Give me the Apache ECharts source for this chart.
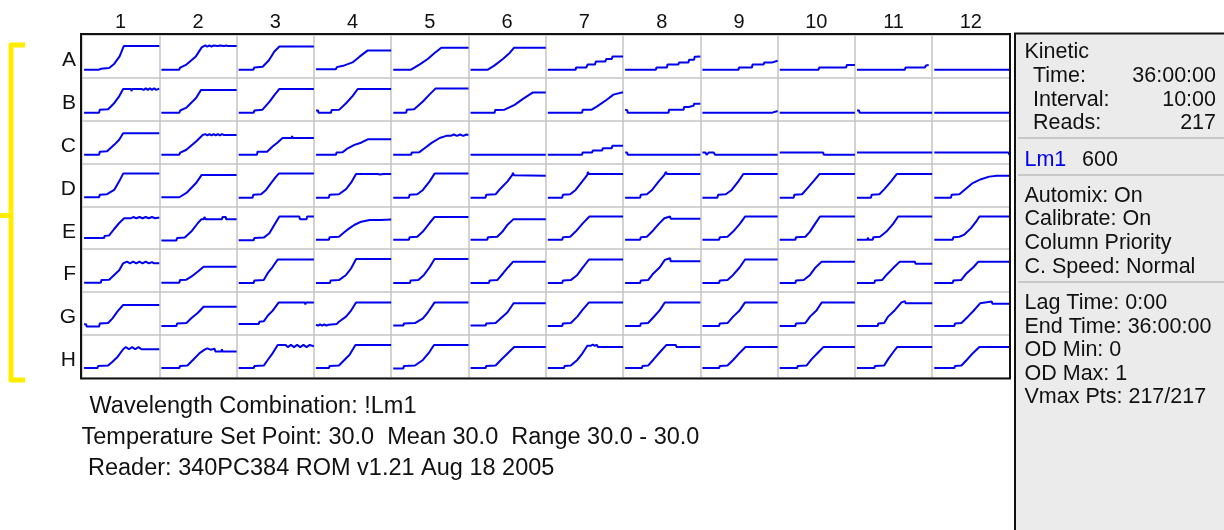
<!DOCTYPE html>
<html>
<head>
<meta charset="utf-8">
<script src="https://cdn.jsdelivr.net/npm/echarts/dist/echarts.min.js"></script>
<style>
html,body{margin:0;padding:0;background:#fff;}
#chart{width:1224px;height:530px;}
</style>
</head>
<body>
<div id="chart"></div>
<script>
// Column and row labels of the 96-well plate
const colLabels = ['1','2','3','4','5','6','7','8','9','10','11','12'];
const rowLabels = ['A','B','C','D','E','F','G','H'];

// Each well: [time (h), OD] points (time 0..36 h, OD 0..1)
const rowA = [
  [[0,.18],[7,.18],[8,.2],[12,.22],[14.5,.32],[17,.49],[19,.73],[36,.73]],
  [[0,.18],[8.5,.18],[9,.23],[12,.3],[16.5,.49],[19.3,.7],[20,.73],[21,.745],[22,.72],[23,.745],[24,.72],[25,.745],[27,.73],[28,.745],[30,.73],[31,.745],[32,.73],[36,.73]],
  [[0,.18],[7,.18],[7.5,.23],[11.5,.25],[14.5,.4],[17,.6],[19.5,.72],[36,.72]],
  [[0,.19],[9.5,.19],[10,.24],[13,.27],[17.5,.35],[21,.49],[24.8,.63],[36,.63]],
  [[0,.18],[8.5,.18],[9,.22],[12.5,.3],[16.5,.43],[19.8,.57],[23,.69],[36,.69]],
  [[0,.18],[8.3,.18],[9,.22],[11.5,.28],[15.5,.43],[18.7,.57],[20.8,.69],[36,.69]],
  [[0,.18],[13.3,.18],[13.5,.23],[18.4,.23],[19,.3],[22.5,.3],[23,.37],[27.5,.37],[28,.43],[30.6,.43],[31,.49],[36,.49]],
  [[0,.18],[14.7,.18],[15,.23],[20,.23],[20.3,.3],[25.5,.3],[25.8,.35],[30.3,.35],[30.6,.41],[33,.41],[33.3,.48],[36,.49]],
  [[0,.18],[17.3,.18],[17.5,.23],[23.7,.23],[24,.3],[29.3,.3],[29.6,.35],[33.5,.35],[34,.38],[36,.39]],
  [[0,.18],[18.6,.18],[18.9,.23],[31.8,.23],[32.1,.29],[36,.29]],
  [[0,.18],[22.9,.18],[23.2,.23],[32.5,.23],[33,.28],[34.3,.29]],
  [[0,.18],[36,.18]]
];
const rowB = [
  [[0,.18],[7.2,.18],[7.5,.25],[11.5,.26],[14.4,.4],[16.8,.56],[18.7,.73],[22.5,.73],[22.7,.68],[23,.73],[27.5,.73],[28.5,.71],[29.5,.75],[30.5,.71],[31.5,.75],[32.5,.71],[33.5,.75],[34.5,.71],[36,.74]],
  [[0,.18],[8.6,.18],[9,.23],[11.8,.29],[16.6,.52],[19,.71],[36,.71]],
  [[0,.18],[7.2,.18],[7.5,.23],[11.4,.25],[14.7,.43],[17,.58],[19.4,.73],[36,.73]],
  [[0,.23],[1,.23],[1.2,.18],[2.4,.18],[7.2,.18],[7.5,.24],[11.2,.25],[14.4,.4],[17.6,.57],[20,.73],[36,.73]],
  [[0,.18],[6.2,.18],[6.5,.25],[10,.26],[14.2,.44],[17.3,.6],[20.2,.74],[36,.74]],
  [[0,.18],[11.5,.18],[11.8,.24],[16.3,.25],[21.1,.36],[25.1,.5],[29.9,.65],[36,.65]],
  [[0,.18],[16.4,.18],[16.7,.25],[21,.25],[23.4,.32],[28.2,.48],[31.4,.6],[35.4,.65],[36,.65]],
  [[0,.24],[1,.24],[1.2,.18],[2.4,.18],[20.8,.18],[21,.25],[28,.25],[28.2,.31],[30.4,.31],[30.6,.34],[32.8,.34],[33,.39],[36,.39]],
  [[0,.18],[33.5,.18],[33.8,.22],[36,.22]],
  [[0,.18],[36,.18]],
  [[0,.23],[1,.23],[1.2,.18],[2.4,.18],[36,.18]],
  [[0,.18],[36,.18]]
];
const rowC = [
  [[0,.2],[7.2,.2],[7.5,.27],[11,.28],[14.4,.43],[16.8,.55],[18.7,.7],[36,.7]],
  [[0,.2],[8.6,.2],[9,.25],[11.8,.31],[16.6,.51],[19.8,.66],[21,.68],[22,.65],[23,.68],[24,.65],[25,.68],[26,.65],[27,.68],[28,.65],[29,.68],[30,.66],[33,.66],[33.3,.63],[33.8,.66],[36,.66]],
  [[0,.2],[8.8,.2],[9,.27],[13.6,.27],[16.2,.39],[18.5,.48],[21,.59],[25.4,.59],[25.6,.64],[25.8,.59],[36,.59]],
  [[0,.2],[9.6,.2],[9.8,.25],[12.8,.26],[15.2,.35],[18.4,.43],[21.6,.48],[24.8,.56],[36,.56]],
  [[0,.2],[8.6,.2],[8.8,.25],[12.5,.26],[15,.35],[18.2,.47],[22.2,.59],[25.4,.64],[26,.67],[27.5,.64],[29,.67],[30.5,.64],[32,.67],[33.5,.64],[35,.67],[36,.66]],
  [[0,.2],[36,.2]],
  [[0,.2],[16.4,.2],[16.6,.25],[21.2,.25],[21.5,.3],[26,.3],[26.3,.35],[30.6,.35],[30.9,.41],[36,.41]],
  [[0,.25],[1,.25],[1.2,.2],[2.4,.2],[36,.2]],
  [[0,.25],[1.5,.25],[2,.2],[3,.25],[5.5,.25],[6,.2],[36,.2]],
  [[0,.25],[20.8,.25],[21.1,.2],[36,.2]],
  [[0,.25],[36,.25]],
  [[0,.25],[35.5,.25],[36,.2]]
];
const rowD = [
  [[0,.21],[7.2,.21],[7.5,.27],[11,.28],[14.4,.38],[16.8,.58],[18.7,.76],[36,.76]],
  [[0,.21],[8.6,.21],[9,.25],[12,.31],[16.6,.54],[19.3,.73],[36,.73]],
  [[0,.2],[6.7,.2],[7,.27],[10.7,.28],[13.1,.38],[15.5,.54],[17.9,.69],[19.2,.76],[36,.76]],
  [[0,.2],[6.2,.2],[6.5,.27],[11,.28],[14.4,.4],[16.8,.55],[19.2,.75],[29.5,.75],[29.8,.71],[30.6,.74],[31.5,.71],[32.5,.75],[36,.75]],
  [[0,.2],[7.5,.2],[7.8,.27],[11.5,.28],[14.2,.38],[17.4,.58],[19.8,.76],[36,.76]],
  [[0,.2],[7.2,.2],[7.5,.27],[12,.28],[14.5,.42],[17.7,.58],[20,.73],[20.3,.78],[20.8,.72],[36,.71]],
  [[0,.2],[6.9,.2],[7.2,.27],[10.7,.28],[13.3,.38],[16.5,.58],[18.9,.73],[19.2,.8],[19.6,.75],[36,.75]],
  [[0,.2],[7.2,.2],[7.5,.27],[10.4,.28],[12.9,.38],[16.1,.58],[18.8,.73],[19.5,.8],[20,.75],[36,.75]],
  [[0,.2],[7.2,.2],[7.5,.27],[11.2,.28],[14,.38],[17.2,.58],[19.6,.75],[36,.75]],
  [[0,.2],[6.7,.2],[7,.27],[10.7,.28],[12.9,.4],[16.1,.58],[19,.75],[36,.75]],
  [[0,.2],[6.7,.2],[7,.27],[10.7,.28],[13.1,.4],[16.3,.58],[19,.75],[36,.75]],
  [[0,.2],[8,.2],[8.3,.27],[12,.28],[14.4,.38],[18.4,.54],[22.4,.63],[26.3,.69],[30,.71],[36,.71]]
];
const rowE = [
  [[0,.26],[9.6,.26],[9.8,.31],[12,.32],[14.4,.47],[16.8,.61],[19.2,.72],[22.5,.72],[23.5,.75],[25,.72],[26.5,.75],[28,.72],[29.5,.75],[31,.72],[32.5,.75],[34,.72],[36,.74]],
  [[0,.2],[7.2,.2],[7.5,.26],[11.2,.27],[14.3,.41],[17.5,.61],[19.2,.7],[20.3,.7],[20.6,.75],[21.2,.7],[29,.7],[29.3,.75],[30.8,.75],[31,.7],[36,.7]],
  [[0,.21],[7.2,.21],[7.5,.26],[12,.27],[14.7,.37],[17.1,.57],[19.5,.76],[29,.76],[29.3,.7],[32.5,.7],[32.8,.76],[36,.76]],
  [[0,.22],[6.2,.22],[6.5,.28],[11,.29],[14,.41],[16.1,.49],[18.5,.57],[21.7,.64],[25.7,.68],[26.2,.71],[26.5,.68],[31,.68],[31.3,.71],[31.8,.68],[36,.69]],
  [[0,.22],[7.5,.22],[7.8,.28],[11.5,.29],[14.2,.41],[17.4,.61],[19.8,.75],[36,.75]],
  [[0,.22],[8,.22],[8.3,.28],[12.8,.29],[15.3,.41],[17.7,.57],[20.6,.7],[36,.7]],
  [[0,.22],[6.9,.22],[7.2,.28],[10.7,.29],[13.3,.41],[16.5,.59],[19.9,.76],[36,.76]],
  [[0,.22],[7.2,.22],[7.5,.28],[10.4,.29],[12.9,.41],[16.1,.59],[18.8,.72],[19,.76],[21.5,.76],[21.8,.71],[36,.71]],
  [[0,.22],[8,.22],[8.3,.28],[12,.29],[14.7,.41],[17.9,.59],[20.4,.76],[36,.76]],
  [[0,.22],[7.5,.22],[7.8,.28],[12.3,.29],[14.5,.41],[16.9,.59],[19.3,.76],[36,.76]],
  [[0,.22],[5,.22],[5.2,.27],[5.5,.22],[7.5,.22],[7.8,.28],[11,.29],[14.1,.41],[17.3,.59],[19.7,.76],[36,.76]],
  [[0,.22],[8.8,.22],[9.1,.28],[12,.29],[14.4,.34],[17.6,.49],[20,.64],[21.6,.76],[36,.76]]
];
const rowF = [
  [[0,.22],[8,.22],[8.3,.28],[12,.29],[14.4,.4],[16.8,.51],[18.7,.67],[20.5,.71],[22,.67],[23.5,.71],[25,.67],[26.5,.71],[28,.67],[29.5,.71],[31,.67],[32.5,.7],[33.5,.67],[36,.67]],
  [[0,.22],[8.6,.22],[8.9,.28],[12,.29],[14.3,.36],[17.5,.48],[20.2,.59],[36,.59]],
  [[0,.21],[7.2,.21],[7.5,.27],[12,.28],[13.9,.44],[16.3,.59],[18.7,.76],[36,.76]],
  [[0,.21],[6.7,.21],[7,.27],[11,.28],[14.4,.4],[16.8,.55],[19.2,.77],[36,.77]],
  [[0,.21],[8,.21],[8.3,.27],[12,.28],[14.7,.4],[17.4,.58],[19.8,.77],[36,.77]],
  [[0,.21],[8.8,.21],[9.1,.27],[12.8,.28],[15.6,.44],[18,.58],[20.4,.71],[36,.71]],
  [[0,.21],[6.9,.21],[7.2,.27],[11,.28],[14.1,.4],[16.5,.56],[19.7,.76],[36,.76]],
  [[0,.21],[7.2,.21],[7.5,.27],[11,.28],[13.4,.43],[16.6,.58],[19,.75],[19.2,.79],[21.5,.79],[21.8,.72],[36,.72]],
  [[0,.21],[8,.21],[8.3,.27],[12,.28],[14.7,.4],[17.9,.58],[20.4,.76],[36,.76]],
  [[0,.21],[7.5,.21],[7.8,.27],[11.5,.28],[14.5,.4],[16.9,.56],[20.1,.71],[36,.71]],
  [[0,.21],[8.3,.21],[8.6,.27],[12,.28],[14.1,.4],[17.3,.56],[20.5,.71],[27.7,.71],[28,.66],[36,.66]],
  [[0,.21],[8.8,.21],[9.1,.27],[12.8,.28],[15.5,.44],[18.7,.58],[21.1,.71],[36,.71]]
];
const rowG = [
  [[0,.25],[1,.25],[1.2,.2],[2.4,.2],[7.2,.2],[7.5,.27],[11.5,.28],[13.6,.39],[16,.55],[18.7,.7],[36,.7]],
  [[0,.21],[7.2,.21],[7.5,.27],[12,.28],[14.3,.39],[17.5,.52],[20.2,.66],[36,.66]],
  [[0,.26],[9.6,.26],[9.9,.31],[12,.32],[13.9,.45],[16.3,.57],[19.2,.76],[31.7,.76],[31.9,.71],[32.2,.76],[36,.76]],
  [[0,.24],[1,.22],[2,.25],[3,.22],[4,.25],[5,.22],[6,.24],[10,.26],[11,.31],[14.4,.43],[16.8,.57],[19.2,.76],[36,.76]],
  [[0,.22],[4.8,.22],[5.1,.27],[10.4,.28],[14.2,.39],[16.6,.53],[19.8,.76],[36,.76]],
  [[0,.22],[7.2,.22],[7.5,.27],[12,.28],[14.5,.39],[17.7,.53],[20.6,.74],[36,.74]],
  [[0,.21],[6.9,.21],[7.2,.27],[11,.28],[14.1,.43],[16.5,.58],[19.7,.76],[36,.76]],
  [[0,.21],[7.2,.21],[7.5,.27],[11,.28],[14.2,.45],[16.6,.58],[19,.76],[36,.76]],
  [[0,.21],[8,.21],[8.3,.27],[12,.28],[14.7,.43],[17.9,.58],[20.4,.76],[36,.76]],
  [[0,.21],[7.5,.21],[7.8,.27],[12.3,.28],[14.5,.43],[17.7,.58],[20.1,.76],[36,.76]],
  [[0,.21],[9.9,.21],[10.2,.27],[13,.28],[14.9,.43],[18.1,.58],[21.3,.76],[21.5,.79],[23,.79],[23.2,.74],[36,.74]],
  [[0,.21],[9.6,.21],[9.9,.27],[13,.28],[16.3,.44],[18.7,.56],[21.9,.74],[22.1,.78],[27.5,.78],[27.8,.73],[36,.73]]
];
const rowH = [
  [[0,.23],[6.4,.23],[6.7,.28],[11.5,.29],[13.6,.38],[16,.49],[18.7,.67],[20,.72],[21.5,.67],[23,.72],[24.5,.67],[26,.72],[27.5,.67],[29,.67],[36,.67]],
  [[0,.23],[8.6,.23],[8.9,.28],[12.5,.29],[15.1,.42],[18.3,.58],[20.7,.66],[22,.69],[23.5,.66],[25.5,.68],[25.8,.62],[28.8,.62],[29,.67],[29.2,.62],[36,.62]],
  [[0,.23],[7.2,.23],[7.5,.28],[12,.29],[13.9,.42],[16.3,.58],[18.7,.77],[22.5,.77],[23.5,.72],[25,.77],[26.5,.72],[28,.77],[29.5,.72],[31,.77],[32.5,.72],[34,.77],[36,.74]],
  [[0,.23],[6.2,.23],[6.5,.28],[11,.29],[13.6,.42],[16.1,.54],[18.9,.77],[36,.77]],
  [[0,.22],[4.8,.22],[5.1,.28],[10.4,.29],[14.2,.42],[17.4,.61],[19.5,.77],[36,.77]],
  [[0,.23],[7.2,.23],[7.5,.28],[12,.29],[14.5,.42],[17.7,.57],[20.9,.72],[36,.72]],
  [[0,.23],[7.7,.23],[8,.28],[11,.29],[14.1,.42],[16.5,.57],[18.9,.75],[19.5,.78],[20.5,.75],[21.5,.78],[22.5,.75],[23.5,.77],[24,.72],[36,.72]],
  [[0,.23],[8,.23],[8.3,.28],[11,.29],[13.4,.42],[16.6,.6],[19.8,.77],[21,.77],[21.3,.73],[22.5,.77],[24.3,.77],[24.6,.72],[36,.72]],
  [[0,.23],[8,.23],[8.3,.28],[12,.29],[14.7,.42],[17.9,.59],[20.6,.72],[36,.72]],
  [[0,.23],[8.3,.23],[8.6,.28],[12.8,.29],[15.3,.44],[18.5,.6],[20.9,.72],[36,.72]],
  [[0,.23],[8.3,.23],[8.6,.28],[13,.29],[14.9,.44],[17.3,.6],[19.2,.72],[36,.72]],
  [[0,.23],[9.6,.23],[9.9,.28],[13,.29],[15.5,.42],[18.7,.59],[21.6,.72],[36,.72]]
];
const plate = [rowA, rowB, rowC, rowD, rowE, rowF, rowG, rowH];

// Side panel and footer texts
const panelLines = [
  {t:'Kinetic', x:1024.5, y:52.5},
  {t:'Time:', x:1033, y:76.5},
  {t:'Interval:', x:1033, y:100},
  {t:'Reads:', x:1033, y:123.5},
  {t:'Automix: On', x:1024.5, y:196},
  {t:'Calibrate: On', x:1024.5, y:219.5},
  {t:'Column Priority', x:1024.5, y:243.5},
  {t:'C. Speed: Normal', x:1024.5, y:267.5},
  {t:'Lag Time: 0:00', x:1024.5, y:303.5},
  {t:'End Time: 36:00:00', x:1024.5, y:327},
  {t:'OD Min: 0', x:1024.5, y:350.5},
  {t:'OD Max: 1', x:1024.5, y:374},
  {t:'Vmax Pts: 217/217', x:1024.5, y:397.5}
];
const panelValues = [
  {t:'36:00:00', y:76.5},
  {t:'10:00', y:100},
  {t:'217', y:123.5}
];
const footerLines = [
  {t:'Wavelength Combination: !Lm1', x:89.5, y:406.5},
  {t:'Temperature Set Point: 30.0  Mean 30.0  Range 30.0 - 30.0', x:81.5, y:438},
  {t:'Reader: 340PC384 ROM v1.21 Aug 18 2005', x:88, y:469}
];

const FONT = '"Liberation Sans", Arial, Helvetica, sans-serif';
const PL = 82, PT = 34.5, PW = 927.5, PH = 343.5;
const cw = PW / 12, rh = PH / 8;
const splitStyle = {show: true, interval: 0, lineStyle: {color: '#c4c4c4', width: 1.5}};

const grids = [{left: PL, top: PT, width: PW, height: PH, show: false}];
const xAxes = [{
  gridIndex: 0, type: 'category', data: colLabels, position: 'top', boundaryGap: true,
  axisLine: {show: false}, axisTick: {show: false},
  axisLabel: {interval: 0, fontSize: 20, fontFamily: FONT, color: '#111', margin: 2},
  splitLine: splitStyle
}];
const yAxes = [{
  gridIndex: 0, type: 'category', data: rowLabels, inverse: true, boundaryGap: true,
  axisLine: {show: false}, axisTick: {show: false}, axisLabel: {show: false},
  splitLine: splitStyle
}];
const series = [];
plate.forEach((row, r) => {
  row.forEach((well, c) => {
    const gi = grids.length;
    grids.push({left: PL + c * cw, top: PT + r * rh, width: cw, height: rh, show: false});
    xAxes.push({gridIndex: gi, type: 'value', min: -1, max: 36, show: false});
    yAxes.push({gridIndex: gi, type: 'value', min: 0, max: 1, show: false});
    series.push({
      name: rowLabels[r] + colLabels[c], type: 'line', xAxisIndex: gi, yAxisIndex: gi,
      data: well, showSymbol: false, symbol: 'none', silent: true, smooth: false,
      lineStyle: {color: '#0000ee', width: 2}, z: 3
    });
  });
});
// row-label axis (slightly lowered, as in the reference)
const lg = grids.length;
grids.push({left: PL, top: PT + 4, width: PW, height: PH, show: false});
xAxes.push({gridIndex: lg, type: 'category', data: colLabels, show: false});
yAxes.push({
  gridIndex: lg, type: 'category', data: rowLabels, inverse: true, boundaryGap: true,
  axisLine: {show: false}, axisTick: {show: false}, splitLine: {show: false},
  axisLabel: {interval: 0, fontSize: 21, fontFamily: FONT, color: '#111', margin: 6}
});

const graphic = [];
// side panel
graphic.push({type: 'rect', shape: {x: 1015, y: 33.5, width: 230, height: 520},
  style: {fill: '#ebebeb', stroke: '#111', lineWidth: 2}, z: 1});
[138, 175, 282].forEach(y => graphic.push({type: 'line', shape: {x1: 1018, y1: y, x2: 1224, y2: y},
  style: {stroke: '#c8c8c8', lineWidth: 2}, z: 2}));
panelLines.forEach(p => graphic.push({type: 'text', x: p.x, y: p.y, z: 3,
  style: {text: p.t, font: '21.5px ' + FONT, fill: '#111', align: 'left', verticalAlign: 'middle'}}));
panelValues.forEach(p => graphic.push({type: 'text', x: 1216, y: p.y, z: 3,
  style: {text: p.t, font: '21.5px ' + FONT, fill: '#111', align: 'right', verticalAlign: 'middle'}}));
graphic.push({type: 'text', x: 1024.5, y: 160, z: 3,
  style: {text: 'Lm1', font: '21.5px ' + FONT, fill: '#0000ee', align: 'left', verticalAlign: 'middle'}});
graphic.push({type: 'text', x: 1082, y: 160, z: 3,
  style: {text: '600', font: '21.5px ' + FONT, fill: '#111', align: 'left', verticalAlign: 'middle'}});
// footer
footerLines.forEach(p => graphic.push({type: 'text', x: p.x, y: p.y, z: 3,
  style: {text: p.t, font: '23.5px ' + FONT, fill: '#111', align: 'left', verticalAlign: 'middle'}}));
// plate outer border
graphic.push({type: 'rect', shape: {x: PL - 1, y: PT - 0.5, width: PW + 1.5, height: PH + 1},
  style: {fill: 'none', stroke: '#111', lineWidth: 2}, z: 50});
// yellow bracket
graphic.push({type: 'polyline', shape: {points: [[25, 45], [11, 45], [11, 380], [25, 380]]},
  style: {stroke: '#ffee00', lineWidth: 5, lineJoin: 'round', fill: 'none'}, z: 5});
graphic.push({type: 'polyline', shape: {points: [[0, 215.5], [11, 215.5]]},
  style: {stroke: '#ffee00', lineWidth: 5, fill: 'none'}, z: 5});

const chart = echarts.init(document.getElementById('chart'), null, {renderer: 'canvas'});
chart.setOption({
  animation: false,
  backgroundColor: '#ffffff',
  grid: grids, xAxis: xAxes, yAxis: yAxes, series: series, graphic: graphic
});
</script>
</body>
</html>
